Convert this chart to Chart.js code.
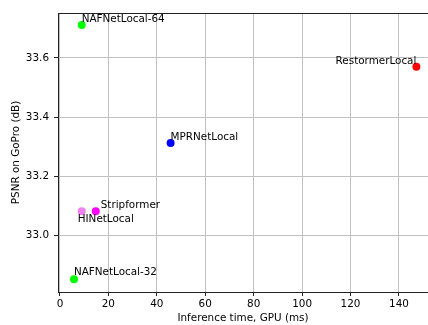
<!DOCTYPE html>
<html>
<head>
<meta charset="utf-8">
<script src="https://cdn.jsdelivr.net/npm/chart.js@4/dist/chart.umd.min.js"></script>
<style>
  body { margin: 0; background: #fff; }
  #wrap { width: 428px; height: 325px; }
</style>
</head>
<body>
<div id="wrap"><canvas id="chart" width="428" height="325"></canvas></div>
<script>
// --- data ---
const models = ['NAFNetLocal-64', 'RestormerLocal', 'MPRNetLocal', 'Stripformer', 'HINetLocal', 'NAFNetLocal-32'];
const inferenceMs = [9, 147.2, 45.7, 14.8, 9, 5.8];
const psnrDb = [33.712, 33.57, 33.312, 33.081, 33.081, 32.85];
const pointColors = ['#00ff00', '#ff0000', '#0000ff', '#ff00ff', '#ee82ee', '#00ff00'];
const xTicks = [0, 20, 40, 60, 80, 100, 120, 140];
const yTicks = [33.0, 33.2, 33.4, 33.6];

// where each annotation sits relative to its point (px)
const labelStyle = {
    'NAFNetLocal-64': { dx: 0, dy: -3, align: 'left' },
    'RestormerLocal': { dx: 0, dy: -3, align: 'right' },
    'MPRNetLocal': { dx: 0, dy: -3, align: 'left' },
    'Stripformer': { dx: 5, dy: -3, align: 'left' },
    'HINetLocal': { dx: -4, dy: 11, align: 'left' },
    'NAFNetLocal-32': { dx: 0, dy: -4, align: 'left' }
};

const FONT = 'DejaVu Sans';
const FS = 10.4;

const pointLabels = {
    id: 'pointLabels',
    afterDatasetsDraw(chart) {
        const ctx = chart.ctx;
        const meta = chart.getDatasetMeta(0);
        ctx.save();
        ctx.font = FS + 'px "' + FONT + '"';
        ctx.fillStyle = '#000';
        ctx.textBaseline = 'alphabetic';
        meta.data.forEach((pt, i) => {
            const s = labelStyle[models[i]];
            ctx.textAlign = s.align;
            ctx.fillText(models[i], pt.x + s.dx, pt.y + s.dy);
        });
        ctx.restore();
    }
};

// top spine (matplotlib frame)
const frame = {
    id: 'frame',
    beforeDatasetsDraw(chart) {
        const { ctx, chartArea: a } = chart;
        ctx.save();
        ctx.strokeStyle = '#222';
        ctx.lineWidth = 1;
        ctx.beginPath();
        ctx.moveTo(a.left, a.top + 0.5);
        ctx.lineTo(a.right, a.top + 0.5);
        ctx.stroke();
        ctx.restore();
    }
};

new Chart(document.getElementById('chart'), {
    type: 'scatter',
    data: {
        datasets: [{
            data: inferenceMs.map((x, i) => ({ x: x, y: psnrDb[i] })),
            pointBackgroundColor: pointColors,
            pointBorderWidth: 0,
            pointRadius: 4,
            pointHoverRadius: 4
        }]
    },
    options: {
        responsive: false,
        animation: false,
        layout: { autoPadding: false, padding: { top: 13, right: 0, left: 0, bottom: 0 } },
        plugins: {
            legend: { display: false },
            tooltip: { enabled: false }
        },
        scales: {
            x: {
                type: 'linear',
                min: -0.8,
                max: 152,
                afterBuildTicks: axis => { axis.ticks = xTicks.map(v => ({ value: v })); },
                afterFit: axis => {
                    axis.height = 33;
                    axis.paddingLeft = 0;
                    axis.paddingRight = 0;
                },
                grid: { color: '#c0c0c0', lineWidth: 1, tickColor: '#222', tickLength: 4 },
                border: { color: '#222', width: 1 },
                ticks: { color: '#000', padding: 2, font: { family: FONT, size: FS }, maxRotation: 0 },
                title: {
                    display: true,
                    text: 'Inference time, GPU (ms)',
                    color: '#000',
                    font: { family: FONT, size: FS },
                    padding: { top: 0, bottom: 0 }
                }
            },
            y: {
                type: 'linear',
                min: 32.807,
                max: 33.7525,
                afterBuildTicks: axis => { axis.ticks = yTicks.map(v => ({ value: v })); },
                afterFit: axis => {
                    axis.width = 58;
                    axis.paddingTop = 0;
                    axis.paddingBottom = 0;
                },
                grid: { color: '#c0c0c0', lineWidth: 1, tickColor: '#222', tickLength: 4 },
                border: { color: '#222', width: 1 },
                ticks: {
                    color: '#000',
                    padding: 5,
                    font: { family: FONT, size: FS },
                    callback: v => v.toFixed(1)
                },
                title: {
                    display: true,
                    text: 'PSNR on GoPro (dB)',
                    color: '#000',
                    font: { family: FONT, size: FS },
                    padding: { top: 10, bottom: 0 }
                }
            }
        }
    },
    plugins: [frame, pointLabels]
});
</script>
</body>
</html>
